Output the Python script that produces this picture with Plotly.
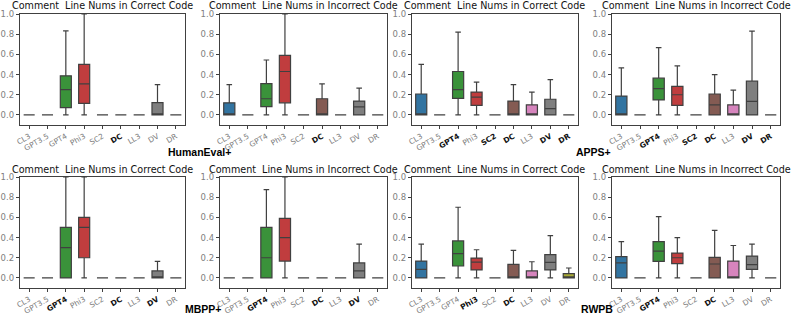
import plotly.graph_objects as go

CATS = ["CL3", "GPT3.5", "GPT4", "Phi3", "SC2", "DC", "LL3", "DV", "DR"]
COLORS = ["#3274a1", "#e1812c", "#3a923a", "#c03d3e", "#9372b2",
          "#845b53", "#d684bd", "#7f7f7f", "#a9aa35"]

TITLE_CORRECT = "Comment  Line Nums in Correct Code"
TITLE_INCORRECT = "Comment  Line Nums in Incorrect Code"
DATASETS = ["HumanEval+", "APPS+", "MBPP+", "RWPB"]

# HumanEval+ correct
he_c_q1 = [0, 0, 0.072, 0.115, 0, 0, 0, 0, 0]
he_c_med = [0, 0, 0.25, 0.308, 0, 0, 0, 0, 0]
he_c_q3 = [0, 0, 0.387, 0.50, 0, 0, 0, 0.121, 0]
he_c_hi = [0, 0, 0.833, 1.0, 0, 0, 0, 0.30, 0]
he_c_bold = ["DC"]
# HumanEval+ incorrect
he_i_q1 = [0, 0, 0.082, 0.12, 0, 0, 0, 0, 0]
he_i_med = [0, 0, 0.16, 0.43, 0, 0, 0, 0.08, 0]
he_i_q3 = [0.12, 0, 0.31, 0.59, 0, 0.16, 0, 0.137, 0]
he_i_hi = [0.30, 0, 0.544, 1.0, 0, 0.308, 0, 0.265, 0]
he_i_bold = ["DC"]
# APPS+ correct
ap_c_q1 = [0, 0, 0.164, 0.095, 0, 0, 0, 0, 0]
ap_c_med = [0, 0, 0.25, 0.177, 0, 0, 0, 0.062, 0]
ap_c_q3 = [0.207, 0, 0.43, 0.226, 0, 0.137, 0.10, 0.155, 0]
ap_c_hi = [0.50, 0, 0.82, 0.325, 0, 0.30, 0.226, 0.35, 0]
ap_c_bold = ["GPT4", "SC2", "DC", "DV", "DR"]
# APPS+ incorrect
ap_i_q1 = [0, 0, 0.148, 0.095, 0, 0, 0, 0, 0]
ap_i_med = [0, 0, 0.26, 0.20, 0, 0.10, 0, 0.134, 0]
ap_i_q3 = [0.187, 0, 0.364, 0.282, 0, 0.207, 0.10, 0.334, 0]
ap_i_hi = [0.466, 0, 0.666, 0.485, 0, 0.40, 0.246, 0.83, 0]
ap_i_bold = ["GPT4", "SC2", "DC", "DV", "DR"]
# MBPP+ correct
mb_c_q1 = [0, 0, 0, 0.20, 0, 0, 0, 0, 0]
mb_c_med = [0, 0, 0.30, 0.50, 0, 0, 0, 0, 0]
mb_c_q3 = [0, 0, 0.50, 0.60, 0, 0, 0, 0.069, 0]
mb_c_hi = [0, 0, 1.0, 1.0, 0, 0, 0, 0.164, 0]
mb_c_bold = ["GPT4", "DC", "DV"]
# MBPP+ incorrect
mb_i_q1 = [0, 0, 0, 0.167, 0, 0, 0, 0, 0]
mb_i_med = [0, 0, 0.20, 0.40, 0, 0, 0, 0.069, 0]
mb_i_q3 = [0, 0, 0.50, 0.59, 0, 0, 0, 0.148, 0]
mb_i_hi = [0, 0, 0.875, 1.0, 0, 0, 0, 0.334, 0]
mb_i_bold = ["GPT4", "DC", "DV"]
# RWPB correct
rw_c_q1 = [0, 0, 0.118, 0.079, 0, 0, 0, 0.079, 0]
rw_c_med = [0.085, 0, 0.24, 0.157, 0, 0, 0, 0.154, 0.01]
rw_c_q3 = [0.167, 0, 0.367, 0.197, 0, 0.134, 0.069, 0.23, 0.043]
rw_c_hi = [0.334, 0, 0.70, 0.279, 0, 0.272, 0.16, 0.42, 0.098]
rw_c_bold = ["Phi3", "DC"]
# RWPB incorrect
rw_i_q1 = [0, 0, 0.164, 0.141, 0, 0, 0, 0.085, 0]
rw_i_med = [0.148, 0, 0.266, 0.20, 0, 0.138, 0, 0.131, 0]
rw_i_q3 = [0.21, 0, 0.36, 0.246, 0, 0.203, 0.167, 0.216, 0]
rw_i_hi = [0.36, 0, 0.607, 0.40, 0, 0.472, 0.321, 0.334, 0]
rw_i_bold = ["GPT4", "DC"]

PANELS = [
    (TITLE_CORRECT, he_c_q1, he_c_med, he_c_q3, he_c_hi, he_c_bold),
    (TITLE_INCORRECT, he_i_q1, he_i_med, he_i_q3, he_i_hi, he_i_bold),
    (TITLE_CORRECT, ap_c_q1, ap_c_med, ap_c_q3, ap_c_hi, ap_c_bold),
    (TITLE_INCORRECT, ap_i_q1, ap_i_med, ap_i_q3, ap_i_hi, ap_i_bold),
    (TITLE_CORRECT, mb_c_q1, mb_c_med, mb_c_q3, mb_c_hi, mb_c_bold),
    (TITLE_INCORRECT, mb_i_q1, mb_i_med, mb_i_q3, mb_i_hi, mb_i_bold),
    (TITLE_CORRECT, rw_c_q1, rw_c_med, rw_c_q3, rw_c_hi, rw_c_bold),
    (TITLE_INCORRECT, rw_i_q1, rw_i_med, rw_i_q3, rw_i_hi, rw_i_bold),
]

W, H = 793, 316
X_PX = [(20, 185), (220, 387), (412, 578), (612, 780)]
Y_PX = [(14, 125), (177, 288)]
FONT = "DejaVu Sans, sans-serif"
LINE = "#404040"

fig = go.Figure()
layout = dict(
    width=W, height=H, margin=dict(l=0, r=0, t=0, b=0, autoexpand=False),
    plot_bgcolor="white", paper_bgcolor="white",
    boxmode="overlay", boxgap=0.14, showlegend=False,
    font=dict(family=FONT),
)
annotations = []
for p, (title, q1, med, q3, hi, bold) in enumerate(PANELS):
    r, c = divmod(p, 4)
    idx = "" if p == 0 else str(p + 1)
    xa, ya = "x" + idx, "y" + idx
    x0, x1 = X_PX[c]
    top, bot = Y_PX[r]
    for i, cat in enumerate(CATS):
        fig.add_trace(go.Box(
            x=[cat], q1=[q1[i]], median=[med[i]], q3=[q3[i]],
            lowerfence=[0], upperfence=[hi[i]],
            fillcolor=COLORS[i], line=dict(color=LINE, width=1.2),
            whiskerwidth=0.5, boxpoints=False,
            xaxis=xa, yaxis=ya, hoverinfo="skip",
        ))
    ticktext = [
        f"<span style='color:#111'><b>{cat}</b></span>" if cat in bold else cat
        for cat in CATS
    ]
    layout["xaxis" + idx] = dict(
        domain=[x0 / W, x1 / W], anchor=ya, type="category",
        categoryorder="array", categoryarray=CATS,
        range=[-0.5, 8.5], tickvals=CATS, ticktext=ticktext,
        tickangle=-30, tickfont=dict(size=7.5, color="#808080", family=FONT),
        showline=True, mirror=True, linecolor=LINE, linewidth=1.2,
        ticks="outside", ticklen=3, tickcolor=LINE, showgrid=False,
        zeroline=False, fixedrange=True, automargin=False,
    )
    layout["yaxis" + idx] = dict(
        domain=[1 - bot / H, 1 - top / H], anchor=xa,
        range=[-0.1, 1.0], tickvals=[0, 0.2, 0.4, 0.6, 0.8, 1.0],
        ticktext=["0.0", "0.2", "0.4", "0.6", "0.8", "1.0"],
        tickfont=dict(size=8.5, color="#808080", family=FONT),
        showline=True, mirror=True, linecolor=LINE, linewidth=1.2,
        ticks="outside", ticklen=3, tickcolor=LINE, showgrid=False,
        zeroline=False, fixedrange=True, automargin=False,
    )
    annotations.append(dict(
        text=title, x=(x0 + x1) / 2 / W, y=1 - (top - 8) / H,
        xref="paper", yref="paper", xanchor="center", yanchor="middle",
        showarrow=False, font=dict(size=9.6, color="#111", family=FONT),
    ))

LABEL_POS = [(199, 152), (593, 152), (203, 309), (597, 309)]
for name, (lx, ly) in zip(DATASETS, LABEL_POS):
    annotations.append(dict(
        text=f"<b>{name}</b>", x=lx / W, y=1 - ly / H,
        xref="paper", yref="paper", xanchor="center", yanchor="middle",
        showarrow=False,
        font=dict(size=10.5, color="#000", family="Liberation Sans, Arial"),
    ))

layout["annotations"] = annotations
fig.update_layout(**layout)
fig.write_html(
    "out.html",
    config={"displayModeBar": False, "staticPlot": True},
    post_script="document.body.style.margin='0';document.body.style.overflow='hidden';",
)
